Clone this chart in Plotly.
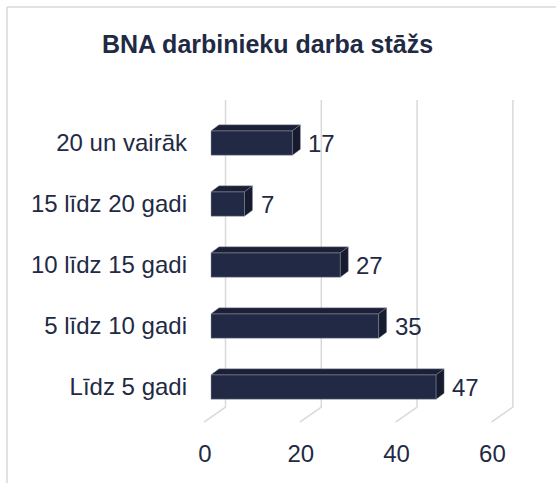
import plotly.graph_objects as go

# ---- data ----
categories = ["Līdz 5 gadi", "5 līdz 10 gadi", "10 līdz 15 gadi", "15 līdz 20 gadi", "20 un vairāk"]
values = [47, 35, 27, 7, 17]
x_ticks = [0, 20, 40, 60]
title_text = "BNA darbinieku darba stāžs"

# ---- styling / geometry (in data units) ----
FONT = "Liberation Sans, Arial, sans-serif"
TXT = "#1f2a44"
FRONT = "#222944"
TOP = "#1b2036"
SIDE = "#171b2e"
EDGE = "rgba(150,155,175,0.7)"
GRID = "#d9d9d9"

bar_w = 0.4
dx = 1.67      # depth offset along x (value units)
dy = 0.098     # depth offset along y (category units)
back_off = 3.03
front_off = -1.46
label_off = 1.25

pos = list(range(len(categories)))

fig = go.Figure()

# front faces
fig.add_trace(go.Bar(
    x=values, y=pos, orientation="h", width=bar_w,
    marker=dict(color=FRONT, line=dict(color=EDGE, width=0.6)),
    hoverinfo="skip", showlegend=False,
))

# top faces and side faces
tx, ty, sx, sy = [], [], [], []
for p, v in zip(pos, values):
    h = bar_w / 2
    tx += [0, v, v + dx, dx, 0, None]
    ty += [p + h, p + h, p + h + dy, p + h + dy, p + h, None]
    sx += [v, v + dx, v + dx, v, v, None]
    sy += [p - h, p - h + dy, p + h + dy, p + h, p - h, None]
fig.add_trace(go.Scatter(x=tx, y=ty, mode="lines", fill="toself", fillcolor=TOP,
                         line=dict(color=EDGE, width=0.5), hoverinfo="skip", showlegend=False))
fig.add_trace(go.Scatter(x=sx, y=sy, mode="lines", fill="toself", fillcolor=SIDE,
                         line=dict(color=EDGE, width=0.5), hoverinfo="skip", showlegend=False))

# dummy trace on shifted axis to carry front-plane tick labels
fig.add_trace(go.Scatter(x=x_ticks, y=[None] * len(x_ticks), xaxis="x2", yaxis="y",
                         mode="markers", hoverinfo="skip", showlegend=False))

# gridlines (back wall + floor diagonal)
y_top, y_bot, y_front = 4.705, -0.328, -0.574
for t in x_ticks:
    fig.add_shape(type="path", xref="x", yref="y", layer="below",
                  path=f"M {t + back_off} {y_top} L {t + back_off} {y_bot} L {t + front_off} {y_front}",
                  line=dict(color=GRID, width=1.5))

# data labels
for p, v in zip(pos, values):
    fig.add_annotation(x=v + dx, y=p, text=str(v), showarrow=False, xanchor="left",
                       xshift=6, font=dict(family=FONT, size=24, color=TXT))

# outer chart border (top and left edges; the rest lies outside the view)
bx0 = (7 - 190) / 340
bx1 = (570 - 190) / 340
by_top = (430 - 7) / 335
by_bot = (430 - 500) / 335
fig.add_shape(type="line", xref="paper", yref="paper", x0=bx0, x1=bx1, y0=by_top, y1=by_top,
              line=dict(color="#d9d9d9", width=1.5), layer="above")
fig.add_shape(type="line", xref="paper", yref="paper", x0=bx0, x1=bx0, y0=by_bot, y1=by_top,
              line=dict(color="#d9d9d9", width=1.5), layer="above")

xr = [(190 - 211) / 4.79, (530 - 211) / 4.79]
fig.update_layout(
    width=556, height=483,
    margin=dict(l=190, r=26, t=95, b=53),
    paper_bgcolor="white", plot_bgcolor="white",
    font=dict(family=FONT, size=24, color=TXT),
    title=dict(text=f"<b>{title_text}</b>", x=267.5 / 556, xanchor="center",
               xref="container", y=1 - 44 / 483, yanchor="middle",
               yref="container", font=dict(family=FONT, size=25, color=TXT)),
    xaxis=dict(range=xr, showgrid=False, zeroline=False, showticklabels=False,
               showline=False, fixedrange=True),
    xaxis2=dict(range=[xr[0] + label_off, xr[1] + label_off], overlaying="x", side="bottom",
                tickvals=x_ticks, ticktext=[str(t) for t in x_ticks], showgrid=False,
                zeroline=False, showline=False, ticks="", ticklabelstandoff=7,
                tickfont=dict(family=FONT, size=24, color=TXT)),
    yaxis=dict(range=[-(430 - 387) / 61, (387 - 95) / 61], tickvals=pos, ticktext=categories,
               showgrid=False, zeroline=False, showline=False, ticks="",
               ticklabelstandoff=2, tickfont=dict(family=FONT, size=24, color=TXT)),
    showlegend=False,
)

fig.write_html("out.html", config={"displayModeBar": False},
               post_script="document.body.style.margin='0';")
